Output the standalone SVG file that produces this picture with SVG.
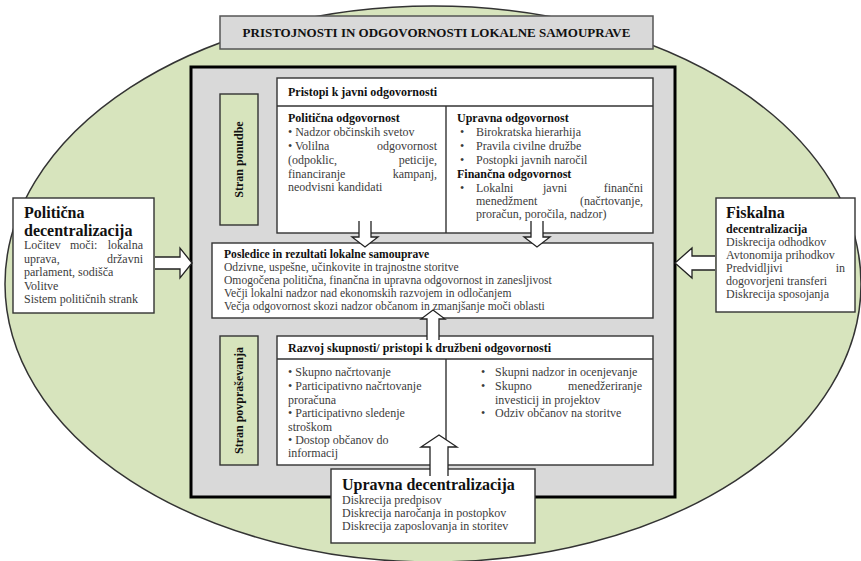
<svg xmlns="http://www.w3.org/2000/svg" width="861" height="561" viewBox="0 0 861 561" font-family="'Liberation Serif', 'Times New Roman', 'DejaVu Serif', serif" font-size="12">
<style>
text{font-family:"Liberation Serif","Times New Roman","DejaVu Serif",serif;font-size:12px;fill:#3c3c3c}
.b{font-weight:bold;fill:#111}
.t{font-size:16px}
.s{font-size:11.6px}
.e{text-anchor:end}
.m{text-anchor:middle}
.wb{fill:#fff;stroke:#333;stroke-width:1.4}
.gb{fill:#d7e4bd;stroke:#333;stroke-width:1.4}
.ar{fill:#fff;stroke:#222;stroke-width:1.3;stroke-linejoin:miter}
</style>
<rect width="861" height="561" fill="#fff"/>
<g id="background">
<ellipse cx="433" cy="284" rx="428" ry="278" fill="#d7e4bd" stroke="#333" stroke-width="1.5"/>
</g>
<g id="title">
<rect x="220" y="16" width="433" height="33" fill="#d9d9d9" stroke="#555" stroke-width="1.5"/>
<text class="b m" x="436.5" y="37" style="font-size:13px">PRISTOJNOSTI IN ODGOVORNOSTI LOKALNE SAMOUPRAVE</text>
</g>
<g id="frame">
<rect x="191" y="67" width="484" height="430" fill="#d9d9d9" stroke="#000" stroke-width="3"/>
</g>
<g id="stran-ponudbe">
<rect class="gb" x="220" y="94" width="38" height="131"/>
<text class="b m" transform="translate(243,159.5) rotate(-90)">Stran ponudbe</text>
</g>
<g id="stran-povprasevanja">
<rect class="gb" x="220" y="336" width="38" height="129"/>
<text class="b m" transform="translate(243,400.5) rotate(-90)">Stran povpraševanja</text>
</g>
<g id="javna-odgovornost">
<rect class="wb" x="277" y="78" width="376" height="155"/>
<line x1="277" y1="106" x2="653" y2="106" stroke="#333" stroke-width="1.4"/>
<line x1="446" y1="106" x2="446" y2="233" stroke="#333" stroke-width="1.4"/>
<text class="b" x="288" y="96">Pristopi k javni odgovornosti</text>
<text class="b" x="288" y="122">Politična odgovornost</text>
<text x="288" y="136">• Nadzor občinskih svetov</text>
<text x="288" y="150">• Volilna</text><text class="e" x="437" y="150">odgovornost</text>
<text x="288" y="164">(odpoklic,</text><text class="e" x="437" y="164">peticije,</text>
<text x="288" y="178">financiranje</text><text class="e" x="437" y="178">kampanj,</text>
<text x="288" y="191">neodvisni kandidati</text>
<text class="b" x="457" y="122">Upravna odgovornost</text>
<text x="460" y="136">•</text><text x="476" y="136">Birokratska hierarhija</text>
<text x="460" y="150">•</text><text x="476" y="150">Pravila civilne družbe</text>
<text x="460" y="164">•</text><text x="476" y="164">Postopki javnih naročil</text>
<text class="b" x="457" y="178">Finančna odgovornost</text>
<text x="460" y="192">•</text><text x="476" y="192">Lokalni</text><text class="m" x="555" y="192">javni</text><text class="e" x="643" y="192">finančni</text>
<text x="476" y="205">menedžment</text><text class="e" x="643" y="205">(načrtovanje,</text>
<text x="476" y="218">proračun, poročila, nadzor)</text>
</g>
<g id="posledice">
<rect class="wb" x="212" y="243" width="441" height="75"/>
<text class="b s" x="224" y="258">Posledice in rezultati lokalne samouprave</text>
<text class="s" x="224" y="271">Odzivne, uspešne, učinkovite in trajnostne storitve</text>
<text class="s" x="224" y="284">Omogočena politična, finančna in upravna odgovornost in zanesljivost</text>
<text class="s" x="224" y="297">Večji lokalni nadzor nad ekonomskih razvojem in odločanjem</text>
<text class="s" x="224" y="310">Večja odgovornost skozi nadzor občanom in zmanjšanje moči oblasti</text>
</g>
<g id="druzbena-odgovornost">
<rect class="wb" x="277" y="336" width="376" height="129"/>
<line x1="277" y1="359" x2="653" y2="359" stroke="#333" stroke-width="1.4"/>
<line x1="446" y1="359" x2="446" y2="465" stroke="#333" stroke-width="1.4"/>
<text class="b" x="288" y="352">Razvoj skupnosti/ pristopi k družbeni odgovornosti</text>
<text x="288" y="376">• Skupno načrtovanje</text>
<text x="288" y="390">• Participativno načrtovanje</text>
<text x="288" y="404">proračuna</text>
<text x="288" y="417">• Participativno sledenje</text>
<text x="288" y="431">stroškom</text>
<text x="288" y="444">• Dostop občanov do</text>
<text x="288" y="457">informacij</text>
<text x="481" y="376">•</text><text x="495" y="376">Skupni nadzor in ocenjevanje</text>
<text x="481" y="390">•</text><text x="495" y="390">Skupno</text><text class="e" x="642" y="390">menedžeriranje</text>
<text x="495" y="404">investicij in projektov</text>
<text x="481" y="417">•</text><text x="495" y="417">Odziv občanov na storitve</text>
</g>
<g id="politicna-decentralizacija">
<rect class="wb" x="13" y="198" width="141" height="115"/>
<text class="b t" x="24" y="218">Politična</text>
<text class="b t" x="24" y="236">decentralizacija</text>
<text x="24" y="249">Ločitev</text><text x="70" y="249">moči:</text><text class="e" x="143" y="249">lokalna</text>
<text x="24" y="263">uprava,</text><text class="e" x="143" y="263">državni</text>
<text x="24" y="276">parlament, sodišča</text>
<text x="24" y="290">Volitve</text>
<text x="24" y="303">Sistem političnih strank</text>
</g>
<g id="fiskalna-decentralizacija">
<rect class="wb" x="716" y="198" width="139" height="114"/>
<text class="b t" x="726" y="218">Fiskalna</text>
<text class="b" x="726" y="233">decentralizacija</text>
<text x="726" y="246">Diskrecija odhodkov</text>
<text x="726" y="259">Avtonomija prihodkov</text>
<text x="726" y="272">Predvidljivi</text><text class="e" x="845" y="272">in</text>
<text x="726" y="285">dogovorjeni transferi</text>
<text x="726" y="298">Diskrecija sposojanja</text>
</g>
<g id="upravna-decentralizacija">
<rect class="wb" x="331" y="469" width="204" height="74"/>
<text class="b t" x="342" y="490">Upravna decentralizacija</text>
<text x="342" y="504">Diskrecija predpisov</text>
<text x="342" y="517">Diskrecija naročanja in postopkov</text>
<text x="342" y="530">Diskrecija zaposlovanja in storitev</text>
</g>
<g id="connectors">
<path class="ar" d="M359,221 L359,237 L352,237 L365,247 L378,237 L371,237 L371,221"/>
<path class="ar" d="M531,221 L531,237 L524,237 L537,247 L550,237 L543,237 L543,221"/>
<path class="ar" d="M427,340 L427,319 L421,319 L433,310 L445,319 L439,319 L439,340"/>
<path class="ar" d="M430,476 L430,447 L421,447 L439,435 L457,447 L448,447 L448,476"/>
<path class="ar" d="M155,257 L180,257 L180,248 L192,263 L180,278 L180,269 L155,269"/>
<path class="ar" d="M715,256 L692,256 L692,248 L675,263 L692,278 L692,270 L715,270"/>
</g>
</svg>
